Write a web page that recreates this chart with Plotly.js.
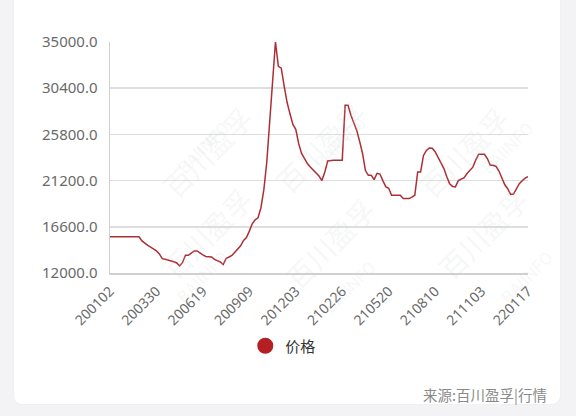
<!DOCTYPE html>
<html>
<head>
<meta charset="utf-8">
<script src="https://cdn.plot.ly/plotly-3.0.1.min.js"></script>
<style>
  html, body { margin:0; padding:0; width:576px; height:416px; background:#f3f3f5; overflow:hidden; }
  #card { position:absolute; left:14px; top:-10px; width:546px; height:414px; background:#ffffff; border-radius:8px; box-shadow:0 0 2px rgba(0,0,0,0.06); }
  #chart { position:absolute; left:0; top:0; width:576px; height:416px; }
</style>
</head>
<body>
<div id="card"></div>
<div id="chart"></div>
<script>
// Tick labels (dates yymmdd) shown on the x axis
const tickLabels = ['200102','200330','200619','200909','201203','210226','210520','210810','211103','220117'];
const pointsPerTick = 16;

// Price series
const priceValues = [
  15600,15600,15600,15600,15600,15600,15600,15600,15600,15600,
  15600,15200,14950,14750,14580,14380,14200,13900,13430,13370,
  13310,13220,13120,13000,12700,13050,13760,13760,14000,14200,
  14190,13960,13800,13650,13620,13590,13350,13200,13100,12840,
  13450,13590,13740,14070,14400,14700,15250,15530,16170,16900,
  17300,17500,18500,20300,23000,27000,31500,35000,32580,32400,
  30600,29000,27850,26800,26300,24880,23900,23350,22900,22550,
  22270,21950,21650,21200,22050,23150,23220,23220,23220,23220,
  23220,28700,28700,27700,26950,26200,25100,23900,22200,21730,
  21730,21300,21930,21850,21200,20600,20430,19740,19740,19740,
  19740,19410,19410,19410,19560,19740,22060,22060,23700,24200,
  24450,24420,24080,23470,22980,22420,21600,20880,20620,20570,
  21200,21330,21490,21900,22260,22540,23250,23820,23820,23820,
  23400,22720,22720,22610,22150,21400,20780,20390,19820,19860,
  20400,20900,21180,21450,21600
];
const yTicks = [12000, 16600, 21200, 25800, 30400, 35000];
const seriesName = '价格';
const sourceText = '来源:百川盈孚|行情';

const xIdx = priceValues.map((_, i) => i);
const tickIdx = tickLabels.map((_, i) => i * pointsPerTick);

const lineColor = '#ad2f36';

const traces = [
  { x: xIdx, y: priceValues, type: 'scatter', mode: 'lines',
    line: { color: lineColor, width: 1.5 }, showlegend: false, hoverinfo: 'skip' },
  { x: [null], y: [null], type: 'scatter', mode: 'markers', name: seriesName,
    marker: { color: '#b51f24', size: 17, symbol: 'circle' }, showlegend: true }
];

// faint watermark
const wm = [];
const wmPos = [[150,95],[320,90],[520,95],[150,290],[330,300],[540,290]];
wmPos.forEach(p => {
  wm.push({ xref:'paper', yref:'paper', x:(p[0]-109.5)/418.5, y:(273-p[1])/231, text:'百川盈孚',
    showarrow:false, textangle:-45, font:{ family:'Noto Sans CJK SC', size:28, color:'rgba(200,205,210,0.18)' } });
  wm.push({ xref:'paper', yref:'paper', x:(p[0]-109.5+20)/418.5, y:(273-p[1]-20)/231, text:'BAIINFO',
    showarrow:false, textangle:-45, font:{ family:'Roboto', size:17, color:'rgba(200,205,210,0.16)' } });
});

const layout = {
  width: 576, height: 416,
  margin: { l: 109.5, r: 48, t: 42, b: 143 },
  paper_bgcolor: 'rgba(0,0,0,0)',
  plot_bgcolor: 'rgba(0,0,0,0)',
  font: { family: 'Noto Sans, Noto Sans CJK SC, sans-serif', color: '#666' },
  xaxis: {
    range: [0, priceValues.length - 1],
    tickmode: 'array', tickvals: tickIdx, ticktext: tickLabels,
    tickangle: -45, showgrid: false, zeroline: false,
    showline: true, linecolor: '#d0d0d0', linewidth: 1.5,
    ticks: '', ticklen: 0, ticklabelstandoff: 3,
    tickfont: { size: 14, color: '#6a6a6a', family: 'Noto Sans, sans-serif' },
    fixedrange: true
  },
  yaxis: {
    range: [12000, 35000],
    tickmode: 'array', tickvals: yTicks, tickformat: '.1f',
    showgrid: true, gridcolor: '#dedede', gridwidth: 1.5,
    zeroline: false, showline: true, linecolor: '#d0d0d0', linewidth: 1.5,
    ticks: '', ticklabelstandoff: 8,
    tickfont: { size: 15, color: '#6a6a6a', family: 'Noto Sans, sans-serif' },
    fixedrange: true
  },
  showlegend: true,
  legend: {
    orientation: 'h', x: (283 - 109.5) / 418.5, xanchor: 'center',
    y: (273 - 346) / 231, yanchor: 'middle',
    font: { size: 15, color: '#333', family: 'Noto Sans CJK SC, sans-serif' },
    bgcolor: 'rgba(0,0,0,0)'
  },
  annotations: wm.concat([
    { xref: 'paper', yref: 'paper', x: (549 - 109.5) / 418.5, xanchor: 'right',
      y: (273 - 394) / 231, yanchor: 'middle', showarrow: false, text: sourceText,
      font: { size: 14.5, color: '#8a8a8a', family: 'Noto Sans CJK SC, sans-serif' } }
  ])
};

Plotly.newPlot('chart', traces, layout, { staticPlot: true, displayModeBar: false });
</script>
</body>
</html>
